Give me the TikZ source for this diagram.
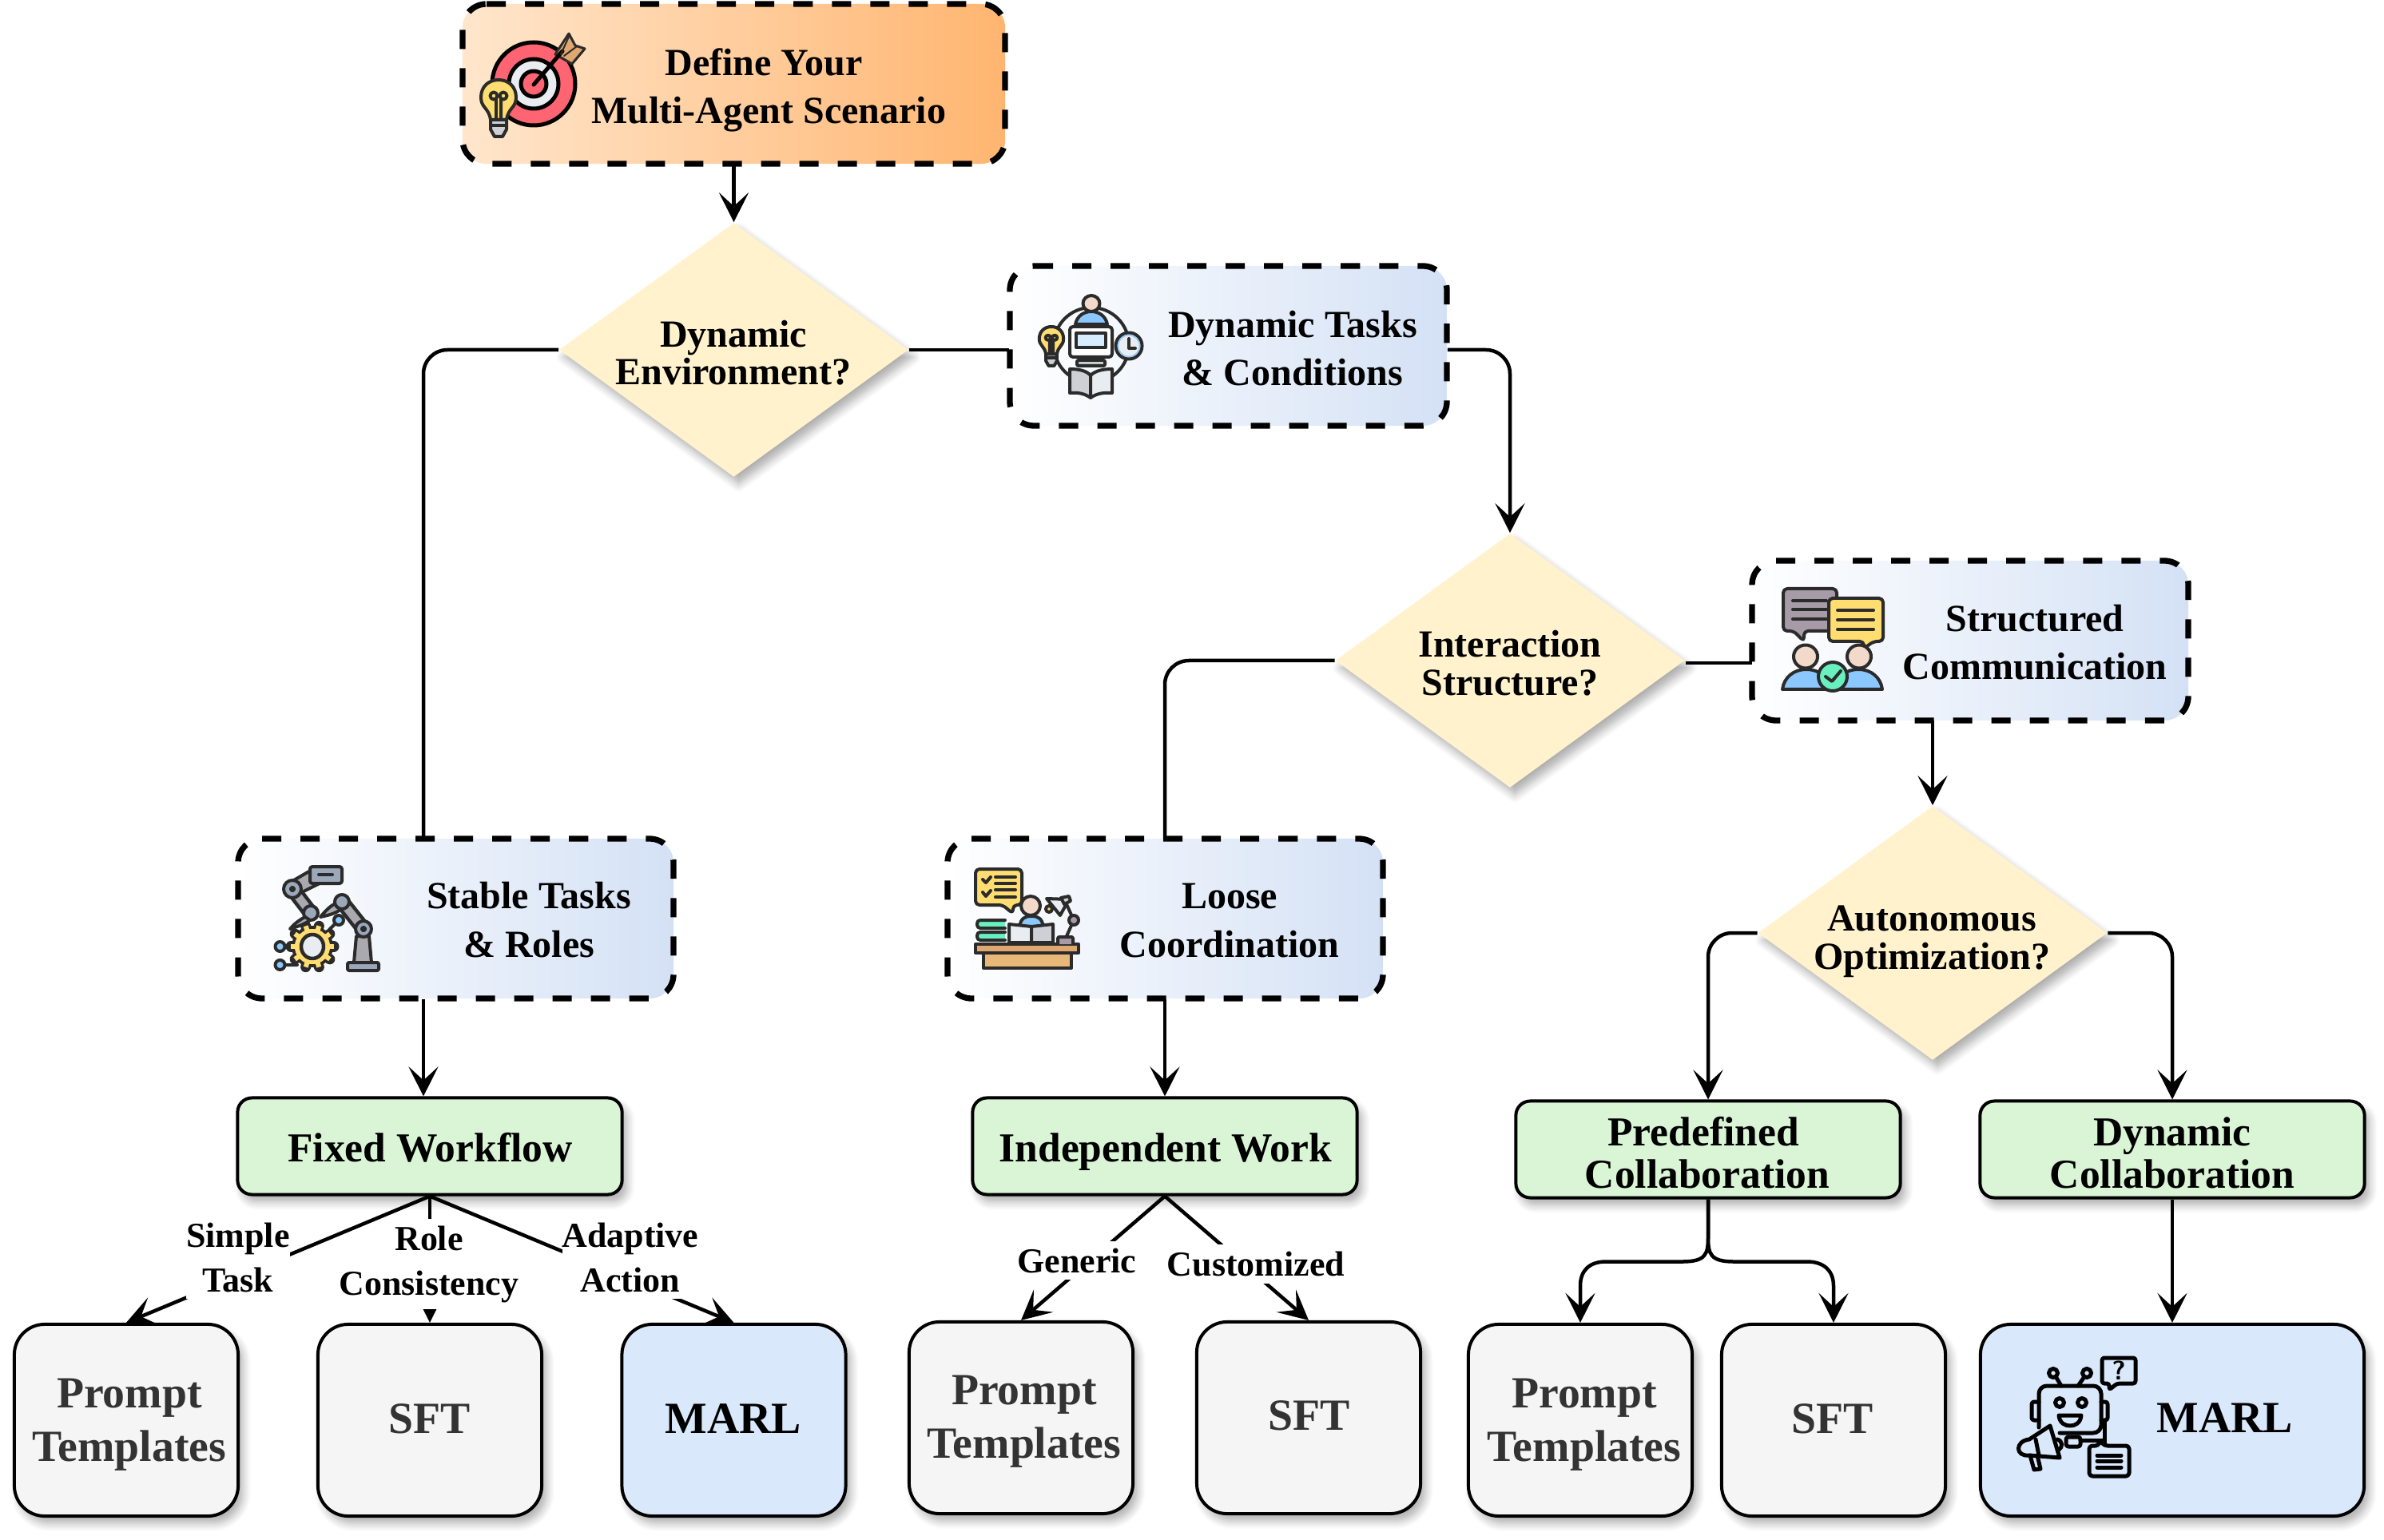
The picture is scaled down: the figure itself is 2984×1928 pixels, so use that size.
\documentclass[tikz,border=0pt]{standalone}
\usepackage{fontspec}
\setmainfont{Liberation Serif}
\usetikzlibrary{arrows.meta,shapes.geometric,shadows.blur,calc}
\definecolor{orL}{HTML}{FFE6CC}\definecolor{orR}{HTML}{FFB570}
\definecolor{blL}{HTML}{FFFFFF}\definecolor{blR}{HTML}{D4E1F5}
\definecolor{dia}{HTML}{FFF2CC}\definecolor{grn}{HTML}{D9F5D6}
\definecolor{gry}{HTML}{F5F5F5}\definecolor{blu}{HTML}{D9E8FB}
\definecolor{gtx}{HTML}{333333}
\definecolor{icd}{HTML}{2B2B2B}\definecolor{yel}{HTML}{FFDD70}\definecolor{rd}{HTML}{FF6473}
\definecolor{pale}{HTML}{E9EDF1}\definecolor{tan}{HTML}{E0A870}\definecolor{skin}{HTML}{F3D9C9}
\definecolor{sky}{HTML}{8AC8FF}\definecolor{mint}{HTML}{69F0C0}\definecolor{mauve}{HTML}{A79BA7}
\definecolor{stl}{HTML}{9AA8BA}\definecolor{ggr}{HTML}{A9A9AF}\definecolor{pgr}{HTML}{CFD0D6}
\definecolor{desk}{HTML}{E8B878}
\tikzset{
  x=0.01cm,y=-0.01cm,
  softshadow/.style={blur shadow={shadow xshift=0.06cm,shadow yshift=-0.09cm,shadow blur radius=0.1cm,shadow blur steps=6,shadow opacity=32}},
  gradbox/.style={rectangle,inner sep=0pt,minimum height=2cm,rounded corners=0.3cm,left color=blL,right color=blR,minimum width=#1},
  decision/.style={diamond,aspect=1.37,inner sep=0pt,minimum width=4.37cm,minimum height=3.18cm,fill=dia,softshadow},
  greenbox/.style={rectangle,inner sep=0pt,minimum width=4.81cm,minimum height=1.21cm,rounded corners=0.18cm,draw=black,line width=0.04cm,fill=grn,softshadow},
  greybox/.style={rectangle,inner sep=0pt,minimum width=2.8cm,minimum height=2.4cm,rounded corners=0.38cm,draw=black,line width=0.04cm,fill=gry,softshadow},
  bluebox/.style={rectangle,inner sep=0pt,minimum height=2.4cm,rounded corners=0.38cm,draw=black,line width=0.04cm,fill=blu,softshadow,minimum width=#1},
  conn/.style={draw=black,line width=0.045cm},
  arr/.style={conn,-{Stealth[length=0.37cm,width=0.37cm,inset=0.17cm]}},
  dashline/.style={draw=black,line width=0.073cm,dash pattern=on 0.24cm off 0.24cm,rounded corners=0.3cm},
  boxtext/.style={anchor=base,inner sep=0pt,align=center,font=\fontsize{13.65}{17.07}\selectfont\bfseries},
  difftext/.style={anchor=base,inner sep=0pt,align=center,font=\fontsize{13.65}{13.5}\selectfont\bfseries},
  greentext/.style={anchor=base,inner sep=0pt,align=center,font=\fontsize{14.65}{14.8}\selectfont\bfseries},
  greytext/.style={anchor=base,inner sep=0pt,align=center,text=gtx,font=\fontsize{15.85}{18.8}\selectfont\bfseries},
  bluetext/.style={anchor=base,inner sep=0pt,align=center,font=\fontsize{15.85}{18.8}\selectfont\bfseries},
  edgetext/.style={anchor=base,inner xsep=0pt,inner ysep=0.09cm,fill=white,align=center,font=\fontsize{12.5}{15.65}\selectfont\bfseries},
  ic/.style={draw=icd,line width=0.04cm,line join=round,line cap=round},
  ick/.style={draw=black,line width=0.05cm,line join=round,line cap=round},
}
% dashed outline: starts after the top-left corner, runs clockwise
\newcommand{\dashoutline}[4]{\draw[dashline] (#1+30,#2) -- (#3,#2) -- (#3,#4) -- (#1,#4) -- (#1,#2) -- (#1+30.5,#2);}
\newcommand{\thicklimb}[2]{\draw[icd,line width=0.19cm,line cap=round] #1 -- #2; \draw[ggr,line width=0.1cm] #1 -- #2;}
\newcommand{\bulbicon}[3]{\begin{scope}[shift={(#1,#2)},scale=#3]
  \draw[ic,fill=yel] (-10,50) .. controls (-12,35) and (-22,35) .. (-22,22) .. controls (-22,8) and (-12,0) .. (0,0) .. controls (12,0) and (22,8) .. (22,22) .. controls (22,35) and (12,35) .. (10,50) -- cycle;
  \draw[ic] (-6,20) circle[radius=4.5] (6,20) circle[radius=4.5] (-3,25) -- (-3,50) (3,25) -- (3,50);
  \draw[ic,fill=pgr] (-10,50) -- (10,50) -- (10,62) -- (5,71) -- (-5,71) -- (-10,62) -- cycle;
  \draw[ic] (-10,57) -- (10,57);
\end{scope}}
\begin{document}
\begin{tikzpicture}
\useasboundingbox (0,0) rectangle (2984,1928);
% ---- main boxes
\node[rectangle,inner sep=0pt,minimum width=6.79cm,minimum height=2cm,rounded corners=0.3cm,left color=orL,right color=orR] (top) at (918.5,105) {};
\dashoutline{579}{5}{1258}{205}
\node[gradbox=5.47cm] (dyn) at (1537.5,433) {};
\node[gradbox=5.46cm] (struct) at (2466,802) {};
\node[gradbox=5.45cm] (stable) at (570.5,1150) {};
\node[gradbox=5.45cm] (loose) at (1458.5,1150) {};
\node[decision] (d1) at (918.5,438) {};
\node[decision] (d2) at (1890,827) {};
\node[decision] (d3) at (2419,1168) {};
\node[greenbox] (fixed) at (538,1435) {};
\node[greenbox] (indep) at (1458,1435) {};
\node[greenbox] (pred) at (2138,1439) {};
\node[greenbox] (dyncol) at (2719,1439) {};
\node[greybox] (p1) at (158,1778) {};
\node[greybox] (s1) at (538,1778) {};
\node[bluebox=2.8cm] (m1) at (918.5,1778) {};
\node[greybox] (p2) at (1278,1775) {};
\node[greybox] (s2) at (1638,1775) {};
\node[greybox] (p3) at (1978,1778) {};
\node[greybox] (s3) at (2295,1778) {};
\node[bluebox=4.8cm] (m3) at (2719,1778) {};
% ---- named free ends
\coordinate (stableport) at (530,1050);
\coordinate (looseport) at (1458,1050);
\coordinate (structin) at (2193,830);
\coordinate (d2out) at (2110,830);
\coordinate (structout) at (2419,902);
% ---- connectors
\draw[arr] (top.south) -- (d1.north);
\draw[conn,rounded corners=0.3cm] (d1.west) -| (stableport);
\draw[conn] (d1.east) -- (d1.east -| dyn.west);
\draw[arr,rounded corners=0.3cm] (d1.east -| dyn.east) -| (d2.north);
\draw[conn,rounded corners=0.3cm] (d2.west) -| (looseport);
\draw[conn] (d2out) -- (structin);
\draw[arr] (structout) -- (structout |- d3.north);
\draw[arr,rounded corners=0.3cm] (d3.west) -| (pred.north);
\draw[arr,rounded corners=0.3cm] (d3.east) -| (dyncol.north);
\draw[arr] (stableport |- stable.south) -- (stableport |- fixed.north);
\draw[arr] (looseport |- loose.south) -- (looseport |- indep.north);
\draw[arr] (fixed.south) -- (s1.north);
\node[edgetext] (lb2) at (537,1621) {Role\\Consistency};
\draw[arr] (fixed.south) -- (p1.north);
\draw[arr] (fixed.south) -- (m1.north);
\draw[arr] (indep.south) -- (p2.north);
\draw[arr] (indep.south) -- (s2.north);
\draw[arr] (pred.south) -- ++(0,47) .. controls +(0,22) and +(30,0) .. ++(-33,31) -- ++(-95,0) .. controls +(-20,0) and +(0,-20) .. (p3.north |- 0,1610) -- (p3.north);
\draw[arr] (pred.south) -- ++(0,47) .. controls +(0,22) and +(-30,0) .. ++(33,31) -- ++(91,0) .. controls +(20,0) and +(0,-20) .. (s3.north |- 0,1610) -- (s3.north);
\draw[arr] (dyncol.south) -- (m3.north);
% ---- edge labels
\node[edgetext] (lb1) at (298,1617) {Simple\\Task};
\node[edgetext] (lb3) at (789,1617) {Adaptive\\Action};
\node[edgetext] (lb4) at (1348,1593) {Generic};
\node[edgetext] (lb5) at (1572,1597) {Customized};
% ---- texts
\node[difftext] (td1) at (918,482) {Dynamic\\Environment?};
\node[difftext] (td2) at (1890,870) {Interaction\\Structure?};
\node[difftext] (td3) at (2418,1213) {Autonomous\\Optimization?};
\node[boxtext] (ttop) at (962,155) {Define Your\hspace*{0.12cm}\\Multi-Agent Scenario};
\node[boxtext] (tdyn) at (1618,483) {Dynamic Tasks\\\& Conditions};
\node[boxtext] (tstruct) at (2547,851) {Structured\\Communication};
\node[boxtext] (tstable) at (662,1198) {Stable Tasks\\\& Roles};
\node[boxtext] (tloose) at (1539,1198) {Loose\\Coordination};
\node[greentext] (tfixed) at (538.5,1454) {Fixed Workflow};
\node[greentext] (tindep) at (1459,1454) {Independent Work};
\node[greentext] (tpred) at (2137,1487) {Predefined\hspace*{0.1cm}\\Collaboration};
\node[greentext] (tdyncol) at (2719,1487) {Dynamic\\Collaboration};
\node[greytext] (tp1) at (162,1829) {Prompt\\Templates};
\node[greytext] (ts1) at (538,1794) {SFT};
\node[bluetext] (tm1) at (918,1794) {MARL};
\node[greytext] (tp2) at (1282,1825) {Prompt\\Templates};
\node[greytext] (ts2) at (1639,1790) {SFT};
\node[greytext] (tp3) at (1983,1829) {Prompt\\Templates};
\node[greytext] (ts3) at (2294,1794) {SFT};
\node[bluetext] (tm3) at (2785,1793) {MARL};
% ---- dashed outlines
\dashoutline{1264}{333}{1811}{533}
\dashoutline{2193}{702}{2739}{902}
\dashoutline{298}{1050}{843}{1250}
\dashoutline{1186}{1050}{1731}{1250}
% ---- icon: target and bulb
\draw[ick,fill=rd] (668,105) circle[radius=52];
\draw[ick,fill=pale] (668,105) circle[radius=31];
\draw[ick,fill=rd] (668,105) circle[radius=16];
\draw[ic,line width=0.03cm,fill=tan] (712,42) -- (720,57) -- (732,61) -- (716,80) -- (695,68) -- cycle;
\draw[ick] (668,106) -- (704,64);
\draw[ic,line width=0.02cm] (712,46) -- (702,68) (722,58) -- (706,70);
\bulbicon{624}{100}{1}
% ---- icon: person, monitor, clock, book, bulb
\draw[ic] (1366,432) circle[radius=47];
\draw[ic,fill=skin] (1366,380) ellipse[x radius=10.5,y radius=10];
\draw[ic,fill=sky] (1346,406) .. controls (1348,396) and (1356,390) .. (1366,390) .. controls (1376,390) and (1384,396) .. (1386,406) -- cycle;
\draw[ic,fill=white,rounded corners=0.04cm] (1339,409) rectangle (1392,447);
\draw[ic,fill=sky!35] (1347,417) rectangle (1384,435);
\draw[ic] (1361,447) -- (1361,452) (1370,447) -- (1370,452);
\draw[ic,fill=pgr,rounded corners=0.02cm] (1348,451) rectangle (1383,458);
\draw[ic,fill=pgr] (1339,462) .. controls (1350,462) and (1360,464) .. (1365,470) -- (1365,498) .. controls (1358,493) and (1350,491) .. (1339,492) -- cycle;
\draw[ic,fill=pale] (1392,462) .. controls (1381,462) and (1371,464) .. (1365,470) -- (1365,498) .. controls (1372,493) and (1381,491) .. (1392,492) -- cycle;
\bulbicon{1316}{409}{0.69}
\draw[ic,fill=pale] (1413,433) circle[radius=16.5];
\draw[sky,line width=0.015cm] (1413,433) circle[radius=13.5];
\draw[ic] (1413,424) -- (1413,436) -- (1421,436);
% ---- icon: speech bubbles and people
\draw[ic,fill=mauve,rounded corners=0.05cm] (2232,737) -- (2299,737) -- (2299,790) -- (2258,790) -- (2258,803) -- (2245,790) -- (2232,790) -- cycle;
\draw[ic] (2244,752) -- (2286,752) (2244,763) -- (2286,763) (2244,775) -- (2286,775);
\draw[ic,fill=yel,rounded corners=0.05cm] (2289,749) -- (2357,749) -- (2357,803) -- (2345,803) -- (2333,812) -- (2333,803) -- (2289,803) -- cycle;
\draw[ic] (2300,764) -- (2345,764) (2300,776) -- (2345,776) (2300,788) -- (2345,788);
\draw[ic,fill=sky] (2231,863) .. controls (2233,848) and (2245,838) .. (2261,838) .. controls (2277,838) and (2289,848) .. (2291,863) -- cycle;
\draw[ic,fill=sky] (2296,863) .. controls (2298,848) and (2310,838) .. (2326,838) .. controls (2342,838) and (2354,848) .. (2356,863) -- cycle;
\draw[ic,fill=skin] (2260,822) ellipse[x radius=15,y radius=14.5];
\draw[ic,fill=skin] (2327,822) ellipse[x radius=15,y radius=14.5];
\draw[ic,fill=mint] (2294,847) circle[radius=18];
\draw[ic] (2285,847) -- (2293,853) -- (2304,840);
% ---- icon: robot arms and gear
\draw[ic] (350.5,1185) -- (370,1185) (350.5,1208) -- (372,1208) (424,1152) -- (412,1164);
\draw[ic,fill=sky] (350.5,1185) circle[radius=6];
\draw[ic,fill=sky] (350.5,1208) circle[radius=6];
\draw[ic,fill=sky] (424,1152) circle[radius=6];
\foreach \a in {0,36,...,324}{\draw[icd,line width=0.13cm,line cap=round] (391,1185) ++(\a:18) -- ++(\a:9);}
\draw[ic,fill=yel] (391,1185) circle[radius=24];
\foreach \a in {0,36,...,324}{\draw[yel,line width=0.06cm] (391,1185) ++(\a:18) -- ++(\a:9);}
\fill[yel] (391,1185) circle[radius=22];
\draw[ic,line width=0.045cm,fill=pale] (391,1185) ellipse[x radius=14,y radius=15];
\thicklimb{(366,1113)}{(389,1143)}
\draw[ic,fill=ggr] (366,1103) -- (392,1088) -- (402,1105) -- (368,1122) -- cycle;
\draw[ic,fill=stl,rounded corners=0.03cm] (388,1085) rectangle (428,1106);
\draw[ic] (399,1095) -- (416,1095);
\draw[ic,fill=stl] (366,1113) circle[radius=11];
\draw[ic,fill=icd] (366,1113) circle[radius=2];
\draw[ic,fill=stl] (389,1143) circle[radius=9];
\draw[ic,fill=ggr] (382,1148) .. controls (374,1152) and (368,1157) .. (363,1163) .. controls (372,1160) and (380,1158) .. (388,1152) -- cycle;
\thicklimb{(428,1129)}{(455,1163)}
\draw[ic,fill=ggr] (420,1131) .. controls (412,1135) and (406,1142) .. (401,1148) .. controls (410,1146) and (420,1144) .. (427,1138) -- cycle;
\draw[ic,fill=ggr] (446,1172) -- (462,1172) -- (465,1205) -- (443,1205) -- cycle;
\draw[ic,fill=stl,rounded corners=0.02cm] (435,1205) rectangle (474,1215);
\draw[ic,fill=stl] (428,1129) circle[radius=9];
\draw[ic,fill=stl] (455,1163) circle[radius=10];
\draw[ic,fill=icd] (455,1163) circle[radius=2];
% ---- icon: desk, reader, books, lamp
\draw[ic,fill=yel,rounded corners=0.05cm] (1221,1088) -- (1279,1088) -- (1279,1133) -- (1268,1133) -- (1268,1144) -- (1255,1133) -- (1221,1133) -- cycle;
\draw[ic] (1230,1101) -- (1234,1105) -- (1240,1098) (1230,1117) -- (1234,1122) -- (1240,1115);
\draw[ic] (1246,1098) -- (1271,1098) (1246,1106) -- (1271,1106) (1246,1114) -- (1271,1114) (1246,1123) -- (1271,1123);
\draw[ic,fill=skin] (1290,1134) ellipse[x radius=12,y radius=12];
\draw[ic,fill=sky] (1276,1160) .. controls (1278,1150) and (1282,1147) .. (1291,1147) .. controls (1300,1147) and (1304,1150) .. (1306,1160) -- cycle;
\draw[ic,fill=pale] (1263,1157) -- (1291,1160) -- (1291,1180) -- (1263,1180) -- cycle;
\draw[ic,fill=pgr] (1318,1157) -- (1291,1160) -- (1291,1180) -- (1318,1180) -- cycle;
\draw[ic,fill=mint,rounded corners=0.04cm] (1258,1152) -- (1223,1152) -- (1223,1162) -- (1258,1162);
\draw[ic,fill=mint,rounded corners=0.04cm] (1258,1167) -- (1223,1167) -- (1223,1177) -- (1258,1177);
\draw[ic,fill=desk] (1231,1193) rectangle (1341,1212);
\draw[ic,fill=tan] (1221,1182) rectangle (1350,1193);
\draw[ic,fill=mauve,rounded corners=0.02cm] (1324,1182) -- (1324,1173) -- (1343,1173) -- (1343,1182);
\draw[ic] (1335,1172) -- (1344,1152) -- (1334,1130);
\draw[ic,fill=mauve] (1344,1152) circle[radius=6];
\draw[ic,fill=yel] (1313,1138) circle[radius=4];
\draw[ic,fill=pale] (1310,1125) -- (1338,1126) -- (1327,1146) -- cycle;
\draw[ic,fill=pgr] (1328,1124) -- (1338,1122) -- (1340,1128) -- (1332,1132) -- cycle;
% ---- icon: robot with megaphone
\begin{scope}[ick]
\draw[rounded corners=0.1cm] (2552,1787) -- (2552,1735) -- (2630,1735) -- (2630,1794) -- (2578,1794);
\draw (2570,1719) circle[radius=5.5] (2612,1719) circle[radius=5.5] (2574,1725) -- (2580,1735) (2608,1725) -- (2601,1735);
\draw[rounded corners=0.03cm] (2552,1755) -- (2543,1755) -- (2543,1778) -- (2552,1778);
\draw[rounded corners=0.03cm] (2630,1755) -- (2638,1755) -- (2638,1778) -- (2630,1778);
\draw (2578,1756) circle[radius=5.5] (2606,1756) circle[radius=5.5];
\draw (2577,1772) -- (2605,1772) .. controls (2604,1782) and (2597,1785) .. (2591,1785) .. controls (2585,1785) and (2578,1782) .. (2577,1772) -- cycle;
\draw[rounded corners=0.03cm] (2631,1700) -- (2673,1700) -- (2673,1732) -- (2650,1732) -- (2640,1740) -- (2640,1732) -- (2631,1732) -- cycle;
\draw[rounded corners=0.03cm] (2586,1799) rectangle (2604,1811);
\draw (2604,1803) -- (2632,1803) (2634,1778) -- (2634,1806);
\draw[rounded corners=0.04cm] (2615,1810) -- (2627,1810) -- (2628,1803) -- (2634,1810) -- (2665,1810) -- (2665,1848) -- (2615,1848) -- cycle;
\draw (2625,1822) -- (2655,1822) (2625,1829) -- (2655,1829) (2625,1837) -- (2655,1837);
\draw (2566,1785) -- (2578,1825) (2566,1785) -- (2540,1802) .. controls (2522,1804) and (2522,1824) .. (2540,1822) -- (2578,1825);
\draw (2548,1802) -- (2552,1822) (2575,1802) .. controls (2582,1804) and (2582,1812) .. (2577,1815);
\draw (2541,1822) -- (2546,1840) -- (2554,1839) -- (2550,1822);
\end{scope}
\node[inner sep=0pt,font=\fontsize{9.5}{9.5}\selectfont\bfseries\sffamily] (qm) at (2652,1716) {?};
\end{tikzpicture}
\end{document}
